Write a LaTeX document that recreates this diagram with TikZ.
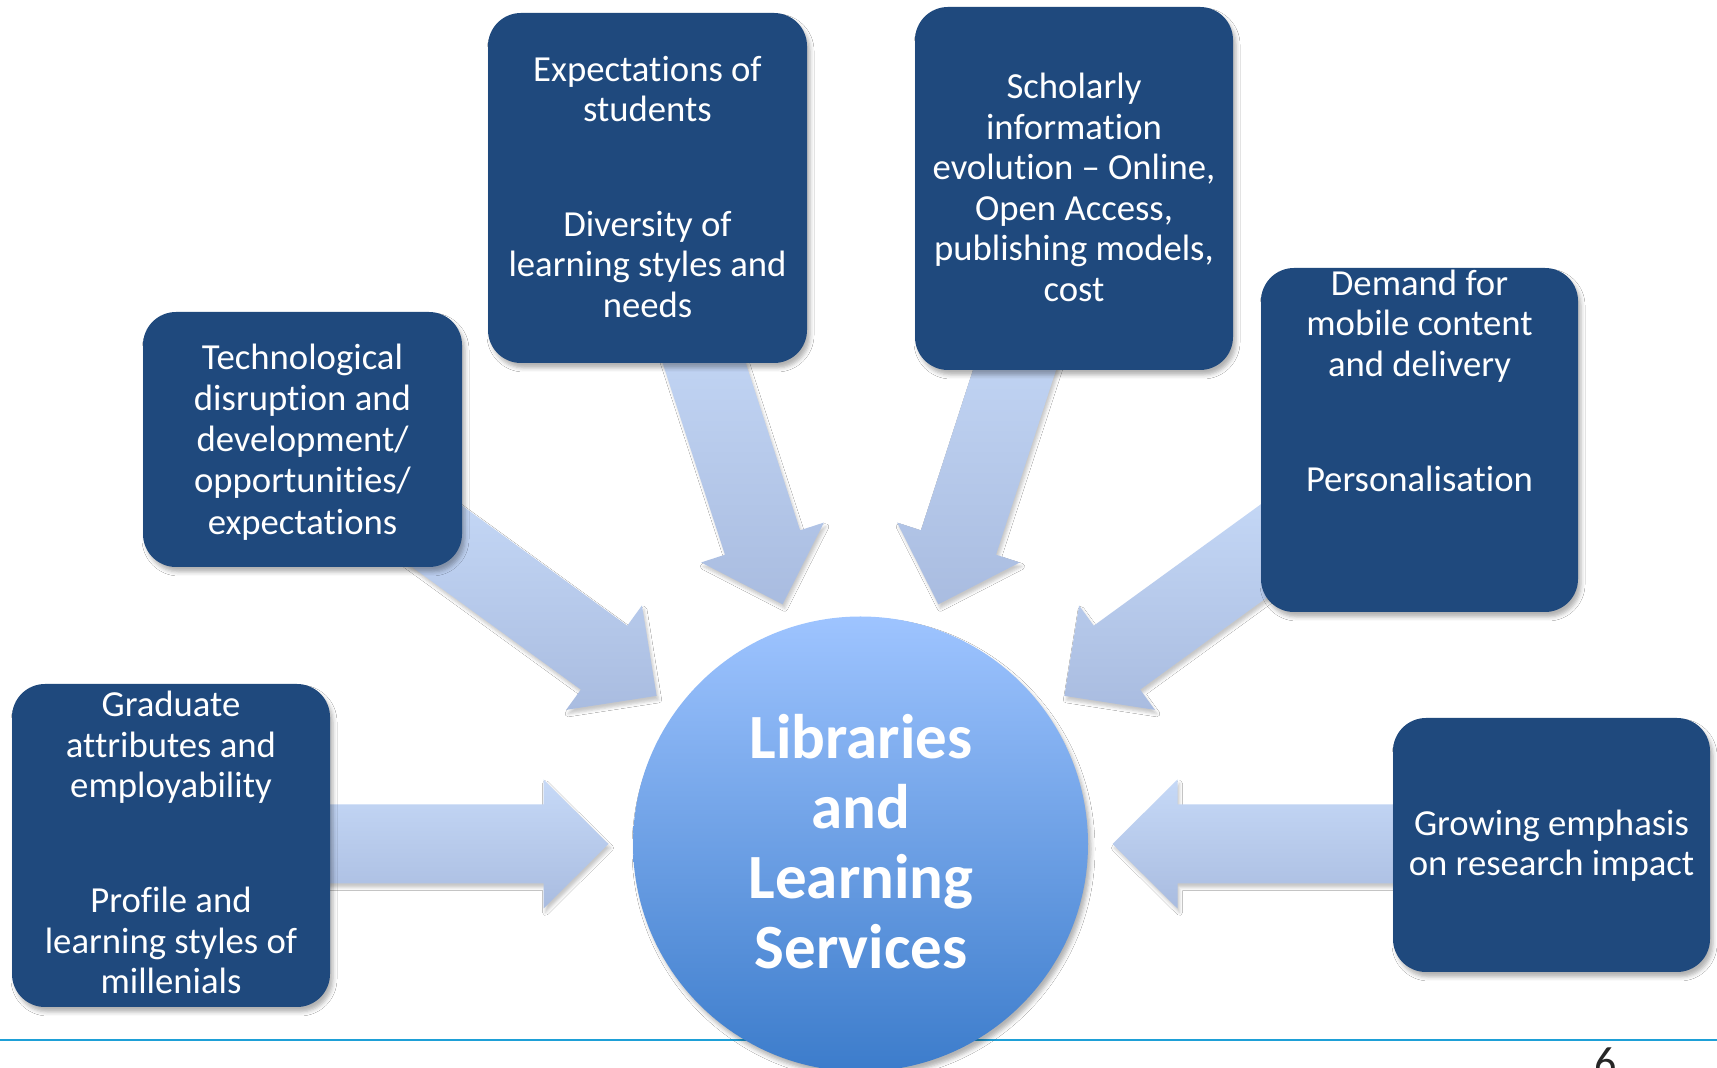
\documentclass[tikz,border=0pt]{standalone}
\usepackage{fontspec}
\setmainfont{Carlito}[Ligatures=CommonOff]
\usetikzlibrary{calc,shadows.blur}

\definecolor{boxblue}{HTML}{1F497D}
\definecolor{arrowtop}{HTML}{C6D9F7}
\definecolor{arrowbot}{HTML}{A9BCE0}
\definecolor{hubtop}{HTML}{9EC4FF}
\definecolor{hubbot}{HTML}{3C7CCB}
\definecolor{rulecol}{HTML}{1EA0D7}

% struts on the first and last line keep the block centred on its lines
\newcommand\boxlines[1]{\strut#1\strut}

\tikzset{
  softshadow/.style={blur shadow={shadow xshift=3pt, shadow yshift=-5pt,
      shadow blur radius=4pt, shadow opacity=30}},
  factor/.style={draw=none, fill=boxblue, rounded corners=33pt,
      minimum width=318pt, inner sep=0pt, softshadow},
  boxtext/.style={text=white, align=center, inner sep=0pt,
      font=\fontsize{36.7}{40.5}\selectfont},
  hubtext/.style={text=white, align=center, inner sep=0pt,
      font=\fontsize{63}{70}\selectfont\bfseries},
  bigarrow/.style={draw=none, top color=arrowtop, bottom color=arrowbot,
      blur shadow={shadow xshift=2pt, shadow yshift=-4pt,
      shadow blur radius=3pt, shadow opacity=22}},
}

\begin{document}
\begin{tikzpicture}[x=1pt, y=1pt]
  \fill[white] (0,0) rectangle (1717,1068);
  \useasboundingbox (0,0) rectangle (1717,1068);

  % footer rule and slide number
  \coordinate (ruleL) at (0,28);
  \coordinate (ruleR) at (1717,28);
  \draw[rulecol, line width=2pt] (ruleL) -- (ruleR);
  \node[anchor=north, inner sep=0pt, text=black!85,
        font=\fontsize{44}{50}\selectfont] (pageno) at (1606,20) {6};

  % centre of the hub
  \coordinate (core) at (860.5,224);

  % six block arrows pointing at the hub
  \foreach \a in {0,36,72,108,144,180} {
    \path[bigarrow]
      ($(core)+(\a:252)$)
      -- ($(core)+(\a:317)+({\a+90}:64.5)$)
      -- ($(core)+(\a:317)+({\a+90}:39.5)$)
      -- ($(core)+(\a:560)+({\a+90}:39.5)$)
      -- ($(core)+(\a:560)+({\a-90}:39.5)$)
      -- ($(core)+(\a:317)+({\a-90}:39.5)$)
      -- ($(core)+(\a:317)+({\a-90}:64.5)$)
      -- cycle;
  }

  % factor boxes
  \node[factor, minimum height=323pt] (b1) at (171,222.5) {};
  \node[factor, minimum height=255pt, minimum width=319pt] (b2) at (302.5,628.5) {};
  \node[factor, minimum height=350pt, minimum width=319pt] (b3) at (647.5,880) {};
  \node[factor, minimum height=363pt] (b4) at (1074,879.5) {};
  \node[factor, minimum height=344pt, minimum width=317pt] (b5) at (1419.5,628) {};
  \node[factor, minimum height=254pt, minimum width=317pt] (b6) at (1551.5,223) {};

  % box texts
  \node[boxtext] (t1a) at (171,318.6) {\boxlines{Graduate\\attributes and\\employability}};
  \node[boxtext] (t1b) at (171,122.8) {\boxlines{Profile and\\learning styles of\\millenials}};
  \node[boxtext, font=\fontsize{36.7}{41.2}\selectfont] (t2) at (302.5,624.5)
    {\boxlines{Technological\\disruption and\\development/\\opportunities/\\expectations}};
  \node[boxtext] (t3a) at (647.5,974.4) {\boxlines{Expectations of\\students}};
  \node[boxtext] (t3b) at (647.5,799.4) {\boxlines{Diversity of\\learning styles and\\needs}};
  \node[boxtext] (t4) at (1074,876.1) {\boxlines{Scholarly\\information\\evolution – Online,\\Open Access,\\publishing models,\\cost}};
  \node[boxtext] (t5a) at (1419.5,740.3) {\boxlines{Demand for\\mobile content\\and delivery}};
  \node[boxtext] (t5b) at (1419.5,584.5) {\boxlines{Personalisation}};
  \node[boxtext] (t6) at (1551.5,220.6) {\boxlines{Growing emphasis\\on research impact}};

  % hub circle
  \node[circle, draw=none, minimum size=455pt, inner sep=0pt,
        top color=hubtop, bottom color=hubbot, softshadow] (hub) at (core) {};
  \node[hubtext] (hubt) at (861,218.7) {\boxlines{Libraries\\and\\Learning\\Services}};
\end{tikzpicture}
\end{document}
